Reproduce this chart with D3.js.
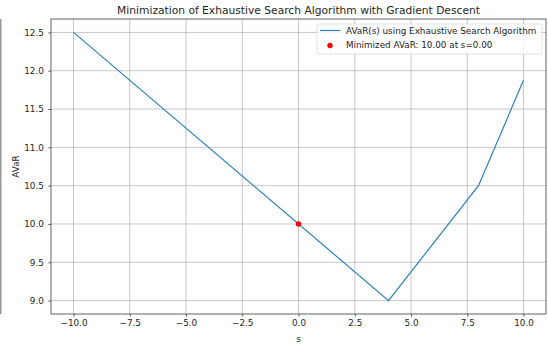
<!DOCTYPE html>
<html>
<head>
<meta charset="utf-8">
<script src="https://cdn.jsdelivr.net/npm/d3@7"></script>
<style>
body { margin: 0; background: #fff; }
text { font-family: "DejaVu Sans", sans-serif; fill: #262626; }
</style>
</head>
<body>
<script>
// data
const sValues = [-10, 4, 8, 10];
const avarValues = [12.5, 9.0, 10.5, 11.875];
const minS = [0];
const minAvar = [10.0];
const xTicks = [-10, -7.5, -5, -2.5, 0, 2.5, 5, 7.5, 10];
const yTicks = [9.0, 9.5, 10.0, 10.5, 11.0, 11.5, 12.0, 12.5];
const lineLabel = "AVaR(s) using Exhaustive Search Algorithm";
const dotLabel = "Minimized AVaR: 10.00 at s=0.00";

const w = 548, h = 349;
const plotLeft = 51, plotRight = 546, plotTop = 19, plotBottom = 314;
const fs = "8.8px";

const svg = d3.select("body").append("svg")
  .attr("width", w)
  .attr("height", h);

// stray edge line at the far left
svg.append("rect")
  .attr("x", 0).attr("y", plotTop)
  .attr("width", 1.5).attr("height", plotBottom - plotTop)
  .attr("fill", "#9a9a9a");

const x = d3.scaleLinear().domain([-11, 11]).range([plotLeft, plotRight]);
const y = d3.scaleLinear().domain([8.825, 12.675]).range([plotBottom, plotTop]);

// grid
svg.append("g").selectAll("line")
  .data(xTicks).enter().append("line")
  .attr("x1", d => x(d)).attr("x2", d => x(d))
  .attr("y1", plotTop).attr("y2", plotBottom)
  .attr("stroke", "#b0b0b0").attr("stroke-width", 0.7);
svg.append("g").selectAll("line")
  .data(yTicks).enter().append("line")
  .attr("x1", plotLeft).attr("x2", plotRight)
  .attr("y1", d => y(d)).attr("y2", d => y(d))
  .attr("stroke", "#b0b0b0").attr("stroke-width", 0.7);

// axes
const xAxis = svg.append("g")
  .attr("transform", `translate(0,${plotBottom})`)
  .call(d3.axisBottom(x).tickValues(xTicks).tickSize(2.7).tickPadding(3)
    .tickFormat(d => d3.format(".1f")(d).replace("-", "\u2212")));
const yAxis = svg.append("g")
  .attr("transform", `translate(${plotLeft},0)`)
  .call(d3.axisLeft(y).tickValues(yTicks).tickSize(2.7).tickPadding(4.5)
    .tickFormat(d3.format(".1f")));

[xAxis, yAxis].forEach(g => {
  g.select(".domain").remove();
  g.selectAll(".tick line").attr("stroke", "#222").attr("stroke-width", 0.7);
  g.selectAll(".tick text").style("font-size", fs).style("fill", "#262626")
    .style("font-family", "DejaVu Sans, sans-serif");
});

// series line
const line = d3.line().x((d, i) => x(sValues[i])).y(d => y(d));
svg.append("path")
  .datum(avarValues)
  .attr("d", line)
  .attr("fill", "none")
  .attr("stroke", "#2a80bd")
  .attr("stroke-width", 1.2);

// minimum point
svg.selectAll("circle.min")
  .data(minAvar).enter().append("circle")
  .attr("class", "min")
  .attr("cx", (d, i) => x(minS[i]))
  .attr("cy", d => y(d))
  .attr("r", 2.7)
  .attr("fill", "red");

// spines
svg.append("rect")
  .attr("x", plotLeft).attr("y", plotTop)
  .attr("width", plotRight - plotLeft).attr("height", plotBottom - plotTop)
  .attr("fill", "none").attr("stroke", "#222").attr("stroke-width", 0.7);

// title and labels
svg.append("text")
  .attr("x", (plotLeft + plotRight) / 2).attr("y", 14)
  .attr("text-anchor", "middle")
  .style("font-size", "10.7px")
  .text("Minimization of Exhaustive Search Algorithm with Gradient Descent");

svg.append("text")
  .attr("x", (plotLeft + plotRight) / 2).attr("y", 342)
  .attr("text-anchor", "middle")
  .style("font-size", fs)
  .text("s");

svg.append("text")
  .attr("transform", `translate(19,${(plotTop + plotBottom) / 2}) rotate(-90)`)
  .attr("text-anchor", "middle")
  .style("font-size", fs)
  .text("AVaR");

// legend
const lg = svg.append("g").attr("transform", "translate(317,24)");
lg.append("rect")
  .attr("width", 225).attr("height", 30).attr("rx", 2)
  .attr("fill", "white").attr("fill-opacity", 0.8)
  .attr("stroke", "#d6d6d6").attr("stroke-width", 0.7);
lg.append("line")
  .attr("x1", 3).attr("x2", 23).attr("y1", 6.5).attr("y2", 6.5)
  .attr("stroke", "#2a80bd").attr("stroke-width", 1.2);
lg.append("circle")
  .attr("cx", 13).attr("cy", 21.5).attr("r", 2.7).attr("fill", "red");
lg.append("text").attr("x", 29).attr("y", 9.6)
  .style("font-size", fs).text(lineLabel);
lg.append("text").attr("x", 29).attr("y", 24.4)
  .style("font-size", fs).text(dotLabel);
</script>
</body>
</html>
